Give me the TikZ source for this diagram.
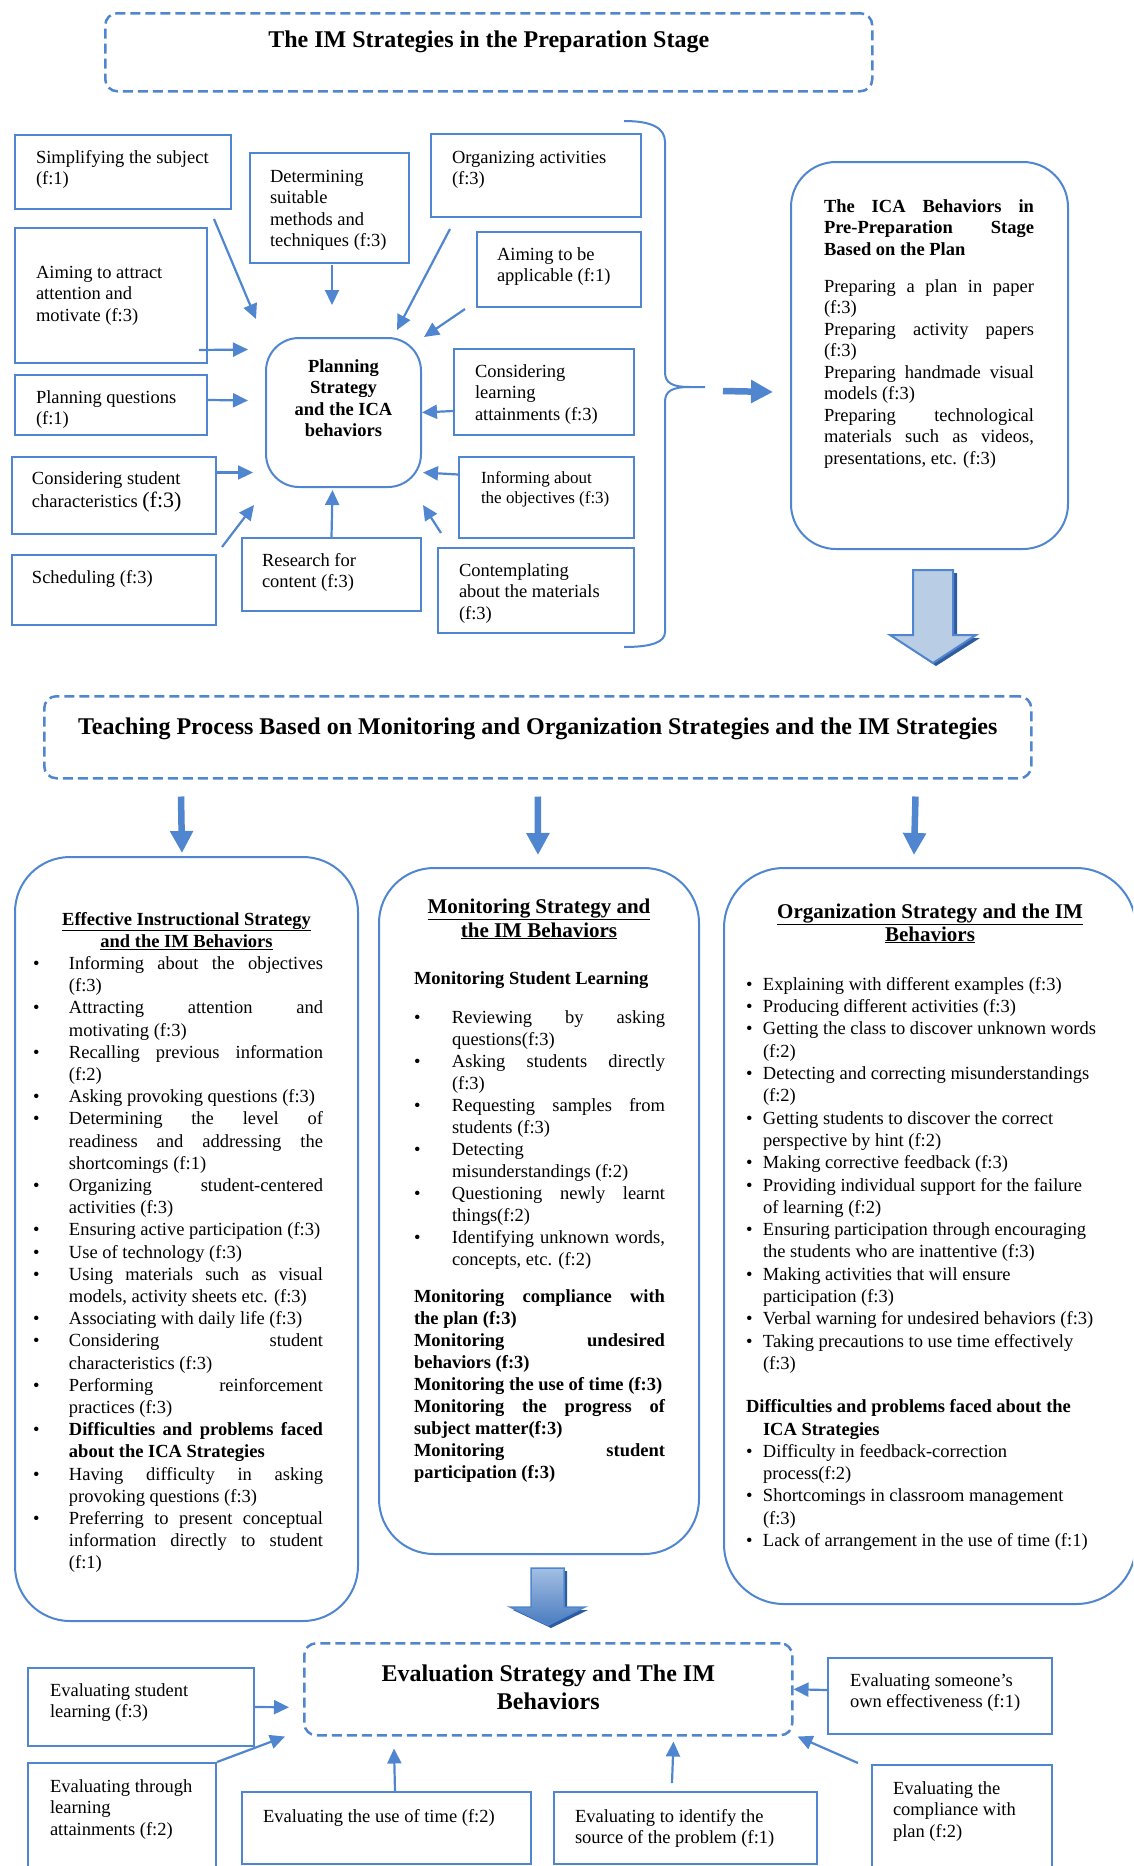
\documentclass[tikz,border=0pt]{standalone}
\usepackage{fontspec}
\setmainfont{Liberation Serif}
\usetikzlibrary{arrows.meta}

\definecolor{lineblue}{HTML}{4F86CF}
\definecolor{arrowfill}{HTML}{B9CDE5}
\definecolor{arrowshadow}{HTML}{2E5C9E}
\definecolor{arrowtop}{HTML}{A3BFE3}
\definecolor{arrowbottom}{HTML}{4A7CC0}

\newlength{\itmhang}
\newcommand{\itm}{\par\noindent\hangindent=\itmhang\hangafter=1\makebox[\itmhang][l]{\textbullet}}
\newcommand{\lefttext}[5]{\parbox[c][#2pt][t]{#1pt}{\raggedright\leftskip=#3pt\rule{0pt}{#4pt}#5}}
\newcommand{\centertext}[4]{\parbox[c][#2pt][t]{#1pt}{\centering\rule{0pt}{#3pt}#4}}
\tolerance=10000
\hyphenpenalty=10000
\exhyphenpenalty=10000

\begin{document}
\begin{tikzpicture}[x=1pt, y=-1pt, font=\fontsize{18.5}{21.5}\selectfont,
  tbox/.style={draw=lineblue, line width=2pt, inner sep=0pt, anchor=north west},
  roundbox/.style={tbox, rounded corners=55pt},
  dashbox/.style={tbox, line width=2.5pt, dash pattern=on 10pt off 5pt, rounded corners=12pt},
  conn/.style={draw=lineblue, line width=2.2pt, -{Triangle[length=15pt,width=14pt]}},
  thickconn/.style={draw=lineblue, line width=6.5pt, -{Triangle[length=22pt,width=22pt]}}]

\useasboundingbox (0,0) rectangle (1133,1866);
\clip (0,0) rectangle (1133,1866);

\node[dashbox] (prep) at (104,12) {\centertext{767}{78}{34}{\fontsize{24}{27}\selectfont\bfseries The IM Strategies in the Preparation Stage}};

\node[tbox, rounded corners=33pt] (plan) at (265,337) {\centertext{155}{149}{34}{\bfseries Planning\\Strategy\\and the ICA\\behaviors}};

\node[tbox] (simp) at (14,134) {\lefttext{216}{74}{21}{28}{Simplifying the subject\\(f:1)}};
\node[tbox] (determ) at (249,152) {\lefttext{159}{110}{20}{29}{Determining\\suitable\\methods and\\techniques (f:3)}};
\node[tbox] (organ) at (430,133) {\lefttext{210}{83}{21}{29}{Organizing activities\\(f:3)}};
\node[tbox] (aimapp) at (476,231) {\lefttext{164}{75}{20}{28}{Aiming to be\\applicable (f:1)}};
\node[tbox] (attract) at (14,227) {\lefttext{192}{135}{21}{50}{Aiming to attract\\attention and\\motivate (f:3)}};
\node[tbox] (planq) at (14,374) {\lefttext{192}{60}{21}{28}{Planning questions\\(f:1)}};
\node[tbox] (consstud) at (11,456) {\lefttext{204}{77}{20}{27}{Considering student\\[2pt]characteristics {\fontsize{22}{24}\selectfont(f:3)}}};
\node[tbox] (sched) at (11,554) {\lefttext{204}{70}{20}{28}{Scheduling (f:3)}};
\node[tbox] (research) at (241,537) {\lefttext{179}{73}{20}{28}{Research for\\content (f:3)}};
\node[tbox] (conslearn) at (453,348) {\lefttext{180}{86}{21}{28}{Considering\\learning\\attainments (f:3)}};
\node[tbox] (inform) at (458,456) {\lefttext{175}{81}{22}{26}{\fontsize{17}{20}\selectfont Informing about\\the objectives (f:3)}};
\node[tbox] (contemp) at (437,547) {\lefttext{196}{85}{21}{28}{Contemplating\\about the materials\\(f:3)}};

\draw[conn] ([shift={(-18,9)}]simp.south east) -- ([shift={(-9,-18)}]plan.north west);
\draw[conn] ([shift={(2.5,1)}]determ.south) -- ([shift={(-11.5,-32)}]plan.north);
\draw[conn] ([shift={(20,11)}]organ.south west) -- ([shift={(-25,-7)}]plan.north east);
\draw[conn] ([shift={(-11,1)}]aimapp.south west) -- ([shift={(2,0)}]plan.north east);
\draw[conn] ([shift={(-9,-14)}]attract.south east) -- ([shift={(-17,-63)}]plan.west);
\draw[conn] ([shift={(0,-5)}]planq.east) -- ([shift={(-17,-12)}]plan.west);
\draw[conn] ([shift={(0,19)}]conslearn.west) -- (plan.east);
\draw[conn] ([shift={(0,-23)}]consstud.east) -- ([shift={(-12,60)}]plan.west);
\draw[conn] ([shift={(5,-7)}]sched.north east) -- ([shift={(-11,17)}]plan.south west);
\draw[conn] (research.north) -- ([shift={(-11,2)}]plan.south);
\draw[conn] ([shift={(0,-23)}]inform.west) -- ([shift={(1,60)}]plan.east);
\draw[conn] ([shift={(4,-14)}]contemp.north west) -- ([shift={(1,17)}]plan.south east);

\draw[lineblue, line width=2pt] (624,121) .. controls (652,121) and (665,128) .. (665,142) -- (665,372)
  .. controls (665,383) and (672,387) .. (690,387) -- (705,387);
\draw[lineblue, line width=2pt] (690,387) .. controls (672,387) and (665,391) .. (665,402) -- (665,632)
  .. controls (665,642) and (652,647) .. (624,647);
\coordinate (tip) at (705,387);

\node[tbox, rounded corners=45pt] (ica) at (790,161) {\parbox[c][387pt][t]{277pt}{\leftskip=33pt\rightskip=34pt
  \bfseries\rule{0pt}{50pt}The ICA Behaviors in\linebreak Pre-Preparation Stage\linebreak Based on the Plan\par
  \vspace{15.5pt}\mdseries
  Preparing a plan in paper\linebreak (f:3)\par
  Preparing activity papers\linebreak (f:3)\par
  Preparing handmade visual\linebreak models (f:3)\par
  Preparing technological\linebreak materials such as videos,\linebreak presentations, etc. (f:3)\par}};

\draw[thickconn] ([shift={(18,4)}]tip) -- ([shift={(-17,36.5)}]ica.west);

\fill[arrowshadow] (917,573) -- (957,573) -- (957,638) -- (980,638) -- (936,666) -- (894,638) -- (917,638) -- cycle;
\draw[lineblue, line width=2pt, fill=arrowfill] (913,570) -- (953,570) -- (953,635) -- (976,635) -- (933,663) -- (890,635) -- (913,635) -- cycle;

\node[dashbox] (teach) at (43,695) {\centertext{987}{82}{38}{\fontsize{24}{27}\selectfont\bfseries Teaching Process Based on Monitoring and Organization Strategies and the IM Strategies}};

\node[roundbox] (eff) at (14,856) {\parbox[c][764pt][t]{343pt}{\fontsize{18.5}{22.2}\selectfont
  {\centering\bfseries\rule{0pt}{68pt}\underline{Effective Instructional Strategy}\\\underline{and the IM Behaviors}\par}
  \setlength{\itmhang}{36pt}\leftskip=18pt\rightskip=35pt
  \itm Informing about the objectives\linebreak (f:3)
  \itm Attracting attention and\linebreak motivating (f:3)
  \itm Recalling previous information\linebreak (f:2)
  \itm Asking provoking questions (f:3)
  \itm Determining the level of\linebreak readiness and addressing the\linebreak shortcomings (f:1)
  \itm Organizing student-centered\linebreak activities (f:3)
  \itm Ensuring active participation (f:3)
  \itm Use of technology (f:3)
  \itm Using materials such as visual\linebreak models, activity sheets etc. (f:3)
  \itm Associating with daily life (f:3)
  \itm Considering student\linebreak characteristics (f:3)
  \itm Performing reinforcement\linebreak practices (f:3)
  \itm \textbf{Difficulties and problems faced\linebreak about the ICA Strategies}
  \itm Having difficulty in asking\linebreak provoking questions (f:3)
  \itm Preferring to present conceptual\linebreak information directly to student\linebreak (f:1)\par}};

\node[roundbox] (mon) at (378,867) {\parbox[c][686pt][t]{320pt}{\fontsize{18.5}{22}\selectfont
  {\centering\bfseries\fontsize{21}{24}\selectfont\rule{0pt}{45pt}\underline{Monitoring Strategy and}\\\underline{the IM Behaviors}\par}
  \vspace{25pt}
  \setlength{\itmhang}{38pt}\leftskip=35pt\rightskip=34pt
  \noindent\textbf{Monitoring Student Learning}\par
  \vspace{17pt}
  \itm Reviewing by asking\linebreak questions(f:3)
  \itm Asking students directly\linebreak (f:3)
  \itm Requesting samples from\linebreak students (f:3)
  \itm Detecting\newline misunderstandings (f:2)
  \itm Questioning newly learnt\linebreak things(f:2)
  \itm Identifying unknown words,\linebreak concepts, etc. (f:2)\par
  \vspace{15pt}\bfseries
  Monitoring compliance with\linebreak the plan (f:3)\par
  Monitoring undesired\linebreak behaviors (f:3)\par
  Monitoring the use of time (f:3)\par
  Monitoring the progress of\linebreak subject matter(f:3)\par
  Monitoring student\linebreak participation (f:3)\par}};

\node[roundbox, rounded corners=60pt] (org) at (723,867) {\parbox[c][736pt][t]{412pt}{\fontsize{18.5}{22.3}\selectfont
  {\centering\bfseries\fontsize{21}{23}\selectfont\rule{0pt}{50pt}\underline{Organization Strategy and the IM}\\\underline{Behaviors}\par}
  \vspace{27pt}
  \raggedright\setlength{\itmhang}{17pt}\leftskip=22pt
  \itm Explaining with different examples (f:3)
  \itm Producing different activities (f:3)
  \itm Getting the class to discover unknown words\newline (f:2)
  \itm Detecting and correcting misunderstandings\newline (f:2)
  \itm Getting students to discover the correct\newline perspective by hint (f:2)
  \itm Making corrective feedback (f:3)
  \itm Providing individual support for the failure\newline of learning (f:2)
  \itm Ensuring participation through encouraging\newline the students who are inattentive (f:3)
  \itm Making activities that will ensure\newline participation (f:3)
  \itm Verbal warning for undesired behaviors (f:3)
  \itm Taking precautions to use time effectively\newline (f:3)\par
  \vspace{21pt}
  \noindent\hangindent=17pt\hangafter=1\textbf{Difficulties and problems faced about the\newline ICA Strategies}
  \itm Difficulty in feedback-correction\newline process(f:2)
  \itm Shortcomings in classroom management\newline (f:3)
  \itm Lack of arrangement in the use of time (f:1)\par}};

\draw[thickconn] ([shift={(138,17)}]teach.south west) -- ([shift={(-4.5,-3)}]eff.north);
\draw[thickconn] ([shift={(0,17)}]teach.south) -- ([shift={(-1,-12)}]mon.north);
\draw[thickconn] ([shift={(-117,17)}]teach.south east) -- ([shift={(-16,-12)}]org.north);

\fill[arrowshadow] (534,1571) -- (567,1571) -- (567,1610) -- (588,1610) -- (551,1628) -- (513,1610) -- (534,1610) -- cycle;
\shadedraw[top color=arrowtop, bottom color=arrowbottom, draw=lineblue, line width=1.5pt] (531,1568) -- (564,1568) -- (564,1607) -- (585,1607) -- (548,1625) -- (510,1607) -- (531,1607) -- cycle;

\node[dashbox] (eval) at (303,1642) {\centertext{488}{92}{38}{\fontsize{24}{28}\selectfont\bfseries Evaluation Strategy and The IM\\Behaviors}};

\node[tbox] (evstud) at (27,1667) {\lefttext{226}{78}{22}{28}{Evaluating student\\learning (f:3)}};
\node[tbox] (evthr) at (27,1762) {\lefttext{188}{118}{22}{29}{Evaluating through\\learning\\attainments (f:2)}};
\node[tbox] (evtime) at (241,1791) {\lefttext{289}{72}{21}{30}{Evaluating the use of time (f:2)}};
\node[tbox] (evsrc) at (553,1791) {\lefttext{263}{72}{21}{30}{Evaluating to identify the\\source of the problem (f:1)}};
\node[tbox] (evown) at (827,1657) {\lefttext{224}{76}{22}{28}{Evaluating someone’s\\own effectiveness (f:1)}};
\node[tbox] (evcomp) at (871,1764) {\lefttext{180}{116}{21}{29}{Evaluating the\\compliance with\\plan (f:2)}};

\draw[conn] (evstud.east) -- ([shift={(-14,18)}]eval.west);
\draw[conn] (evthr.north east) -- ([shift={(-18,0)}]eval.south west);
\draw[conn] ([shift={(8.5,0)}]evtime.north) -- ([shift={(91,12)}]eval.south west);
\draw[conn] ([shift={(-13.5,-8)}]evsrc.north) -- ([shift={(-120,5)}]eval.south east);
\draw[conn] ([shift={(0,-6)}]evown.west) -- (eval.east);
\draw[conn] ([shift={(-13,-1)}]evcomp.north west) -- ([shift={(4,0)}]eval.south east);
\end{tikzpicture}
\end{document}
